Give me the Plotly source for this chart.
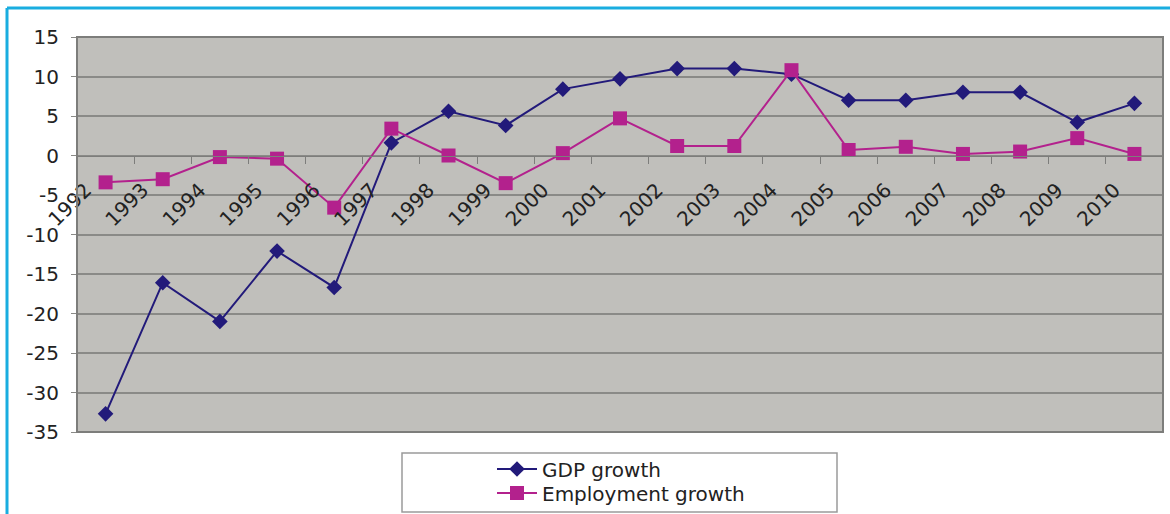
import plotly.graph_objects as go

years = ["1992", "1993", "1994", "1995", "1996", "1997", "1998", "1999", "2000", "2001",
         "2002", "2003", "2004", "2005", "2006", "2007", "2008", "2009", "2010"]
gdp_growth = [-32.7, -16.1, -21.0, -12.1, -16.7, 1.6, 5.6, 3.8, 8.4, 9.7,
              11.0, 11.0, 10.3, 7.0, 7.0, 8.0, 8.0, 4.2, 6.6]
employment_growth = [-3.4, -3.0, -0.2, -0.4, -6.6, 3.4, 0.0, -3.5, 0.3, 4.7,
                     1.2, 1.2, 10.8, 0.7, 1.1, 0.2, 0.5, 2.2, 0.2]
y_ticks = [15, 10, 5, 0, -5, -10, -15, -20, -25, -30, -35]
y_tick_text = ["15", "10", "5", "0", "-5", "-10", "-15", "-20", "-25", "-30", "-35"]

FONT = "DejaVu Sans"
TEXT = "#222222"
GDP_COLOR = "#221a7a"
EMP_COLOR = "#b3218d"

fig = go.Figure()
fig.add_trace(go.Scatter(
    x=years, y=gdp_growth, name="GDP growth", mode="lines+markers",
    line=dict(color=GDP_COLOR, width=2),
    marker=dict(symbol="diamond", size=12, color=GDP_COLOR),
    legend="legend",
))
fig.add_trace(go.Scatter(
    x=years, y=employment_growth, name="Employment growth", mode="lines+markers",
    line=dict(color=EMP_COLOR, width=2),
    marker=dict(symbol="square", size=14, color=EMP_COLOR),
    legend="legend2",
))

L, R, T, B = 77, 7, 37, 82
W, H = 1170, 514
pw, ph = W - L - R, H - T - B

def px_x(p):
    return (p - L) / pw

def px_y(p):
    return (H - B - p) / ph

legend_common = dict(
    xanchor="left", yanchor="middle",
    bgcolor="rgba(0,0,0,0)", borderwidth=0,
    font=dict(family=FONT, size=20, color=TEXT),
    itemwidth=40,
)

fig.update_layout(
    width=W, height=H,
    margin=dict(l=L, r=R, t=T, b=B, pad=0, autoexpand=False),
    paper_bgcolor="white",
    plot_bgcolor="#c0bfbb",
    font=dict(family=FONT, size=20, color=TEXT),
    showlegend=True,
    legend=dict(x=px_x(492), y=px_y(469), **legend_common),
    legend2=dict(x=px_x(492), y=px_y(493), **legend_common),
    xaxis=dict(
        type="category", categoryorder="array", categoryarray=years,
        range=[-0.5, len(years) - 0.5],
        anchor="free", position=0.7,
        showgrid=False, zeroline=False,
        showline=True, linecolor="#7d7d7b", linewidth=1,
        ticks="outside", tickson="boundaries", ticklen=7, tickcolor="#7d7d7b",
        tickangle=-45,
        ticklabelshift=-20, ticklabelstandoff=14,
        tickfont=dict(family=FONT, size=20, color=TEXT),
    ),
    yaxis=dict(
        range=[-35, 15], tickvals=y_ticks, ticktext=y_tick_text,
        showgrid=True, gridcolor="#8a8a87", gridwidth=1.5,
        zeroline=False,
        ticks="outside", ticklen=5, tickcolor="#8a8a87",
        ticklabelstandoff=8,
        tickfont=dict(family=FONT, size=20, color=TEXT),
    ),
    shapes=[
        dict(type="rect", xref="paper", yref="paper", x0=0, x1=1, y0=0, y1=1,
             line=dict(color="#7d7d7b", width=2), layer="above"),
        dict(type="rect", xref="paper", yref="paper",
             x0=px_x(402), x1=px_x(837), y0=px_y(512), y1=px_y(453),
             line=dict(color="#9a9a9a", width=1.5)),
        dict(type="line", xref="paper", yref="paper",
             x0=px_x(7), x1=px_x(1175), y0=px_y(8), y1=px_y(8),
             line=dict(color="#19ade0", width=3)),
        dict(type="line", xref="paper", yref="paper",
             x0=px_x(7), x1=px_x(7), y0=px_y(8), y1=px_y(520),
             line=dict(color="#19ade0", width=3)),
    ],
)

fig.write_html("out.html")
